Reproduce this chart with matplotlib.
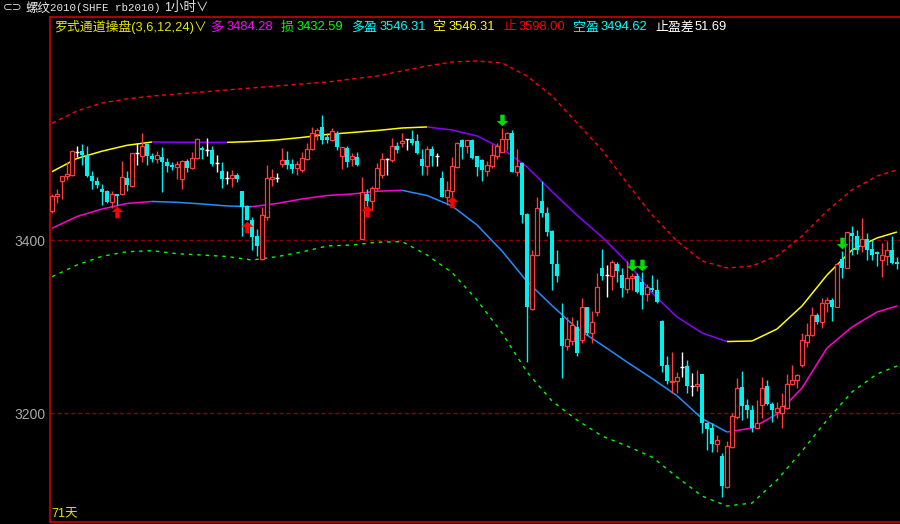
"""Rebar 2010 hourly candles with the Luo channel overlay."""

import matplotlib

matplotlib.use("Agg")
import matplotlib.pyplot as plt
import numpy as np
from matplotlib.collections import LineCollection
from matplotlib.path import Path

plt.rcParams["font.family"] = ["Noto Sans CJK SC", "DejaVu Sans"]

# one hourly bar every index step
opens = [
    3434, 3451, 3469, 3474, 3476, 3502, 3503, 3499, 3474, 3469,
    3459, 3457, 3444, 3454, 3453, 3472, 3463, 3501, 3498, 3511,
    3498, 3494, 3496, 3491, 3487, 3485, 3471, 3492, 3484, 3495,
    3507, 3504, 3504, 3489, 3480, 3472, 3472, 3476, 3457, 3440,
    3424, 3405, 3378, 3427, 3471, 3472, 3488, 3493, 3488, 3484,
    3481, 3494, 3506, 3523, 3531, 3519, 3516, 3524, 3498, 3507,
    3494, 3496, 3402, 3454, 3445, 3460, 3475, 3494, 3493, 3509,
    3513, 3517, 3517, 3515, 3494, 3486, 3506, 3498, 3472, 3450,
    3457, 3485, 3516, 3509, 3516, 3497, 3493, 3480, 3486, 3498,
    3502, 3517, 3524, 3479, 3489, 3430, 3321, 3383, 3445, 3432,
    3411, 3373, 3310, 3278, 3284, 3300, 3285, 3323, 3293, 3317,
    3368, 3360, 3359, 3373, 3360, 3344, 3356, 3359, 3352, 3338,
    3345, 3343, 3307, 3256, 3236, 3237, 3253, 3255, 3232, 3232,
    3246, 3189, 3183, 3164, 3151, 3115, 3161, 3196, 3231, 3210,
    3204, 3183, 3210, 3232, 3211, 3202, 3200, 3206, 3234, 3238,
    3256, 3283, 3290, 3314, 3306, 3328, 3331, 3323, 3378, 3368,
    3409, 3405, 3393, 3401, 3390, 3386, 3377, 3382, 3389, 3375,
]
highs = [
    3454, 3459, 3474, 3491, 3504, 3509, 3511, 3509, 3480, 3473,
    3465, 3458, 3457, 3454, 3492, 3480, 3501, 3512, 3524, 3513,
    3501, 3503, 3508, 3495, 3490, 3492, 3493, 3494, 3502, 3518,
    3509, 3518, 3509, 3499, 3491, 3480, 3481, 3478, 3457, 3441,
    3427, 3413, 3438, 3487, 3482, 3478, 3507, 3503, 3494, 3492,
    3502, 3512, 3531, 3530, 3545, 3524, 3530, 3526, 3508, 3509,
    3501, 3502, 3473, 3459, 3463, 3489, 3501, 3495, 3518, 3514,
    3524, 3517, 3528, 3523, 3505, 3509, 3509, 3501, 3480, 3469,
    3496, 3514, 3517, 3516, 3517, 3497, 3494, 3492, 3511, 3512,
    3530, 3525, 3528, 3505, 3490, 3431, 3389, 3450, 3469, 3438,
    3412, 3389, 3328, 3311, 3311, 3308, 3333, 3323, 3318, 3362,
    3390, 3372, 3377, 3375, 3368, 3376, 3362, 3362, 3363, 3350,
    3360, 3355, 3308, 3266, 3271, 3248, 3271, 3262, 3247, 3250,
    3246, 3190, 3189, 3175, 3154, 3168, 3200, 3241, 3249, 3217,
    3210, 3215, 3242, 3239, 3213, 3213, 3223, 3246, 3256, 3246,
    3293, 3304, 3323, 3316, 3333, 3334, 3333, 3374, 3388, 3410,
    3417, 3412, 3426, 3409, 3400, 3388, 3397, 3399, 3405, 3381,
]
lows = [
    3432, 3443, 3448, 3470, 3474, 3496, 3487, 3473, 3459, 3460,
    3441, 3443, 3437, 3441, 3452, 3457, 3462, 3487, 3490, 3487,
    3490, 3489, 3456, 3479, 3481, 3471, 3459, 3479, 3482, 3494,
    3494, 3498, 3486, 3479, 3461, 3465, 3462, 3467, 3405, 3423,
    3389, 3382, 3377, 3424, 3463, 3467, 3485, 3482, 3478, 3475,
    3479, 3493, 3504, 3516, 3511, 3512, 3515, 3504, 3482, 3485,
    3486, 3486, 3401, 3439, 3435, 3458, 3472, 3476, 3491, 3501,
    3508, 3504, 3510, 3500, 3475, 3476, 3486, 3486, 3450, 3441,
    3446, 3484, 3494, 3501, 3494, 3474, 3468, 3474, 3484, 3494,
    3502, 3504, 3479, 3474, 3420, 3259, 3320, 3382, 3427, 3405,
    3343, 3352, 3241, 3273, 3279, 3266, 3281, 3291, 3281, 3313,
    3354, 3335, 3343, 3352, 3334, 3339, 3342, 3339, 3321, 3330,
    3340, 3328, 3248, 3234, 3224, 3224, 3242, 3224, 3220, 3226,
    3177, 3158, 3155, 3155, 3103, 3114, 3160, 3194, 3192, 3195,
    3178, 3183, 3195, 3210, 3190, 3195, 3183, 3205, 3233, 3229,
    3254, 3277, 3289, 3303, 3299, 3317, 3307, 3323, 3356, 3368,
    3383, 3384, 3387, 3377, 3377, 3370, 3358, 3371, 3373, 3367,
]
closes = [
    3451, 3454, 3474, 3477, 3503, 3502, 3499, 3474, 3468, 3464,
    3456, 3444, 3454, 3451, 3473, 3464, 3501, 3501, 3509, 3498,
    3494, 3499, 3490, 3486, 3485, 3488, 3492, 3484, 3495, 3517,
    3504, 3504, 3488, 3489, 3471, 3472, 3476, 3471, 3438, 3424,
    3404, 3393, 3429, 3472, 3473, 3472, 3493, 3487, 3482, 3488,
    3495, 3506, 3524, 3528, 3516, 3516, 3526, 3508, 3508, 3491,
    3498, 3487, 3456, 3446, 3460, 3484, 3494, 3494, 3509, 3504,
    3515, 3517, 3513, 3501, 3486, 3505, 3497, 3498, 3450, 3458,
    3486, 3513, 3508, 3516, 3495, 3485, 3481, 3487, 3499, 3509,
    3517, 3524, 3479, 3486, 3429, 3323, 3383, 3437, 3431, 3410,
    3373, 3359, 3278, 3286, 3302, 3270, 3323, 3293, 3306, 3346,
    3359, 3360, 3375, 3365, 3345, 3356, 3359, 3340, 3337, 3346,
    3342, 3329, 3255, 3237, 3237, 3242, 3253, 3232, 3232, 3234,
    3189, 3182, 3164, 3169, 3116, 3162, 3197, 3229, 3209, 3204,
    3183, 3189, 3229, 3211, 3204, 3206, 3209, 3234, 3239, 3244,
    3285, 3291, 3314, 3306, 3328, 3331, 3323, 3373, 3368, 3410,
    3405, 3389, 3402, 3389, 3383, 3384, 3383, 3389, 3374, 3373,
]

# channel lines, sampled every fifth bar
band_idx = [
    0, 5, 10, 15, 20, 25, 30, 35, 40, 45, 50, 55, 60, 65, 70, 75, 80, 85,
    90, 95, 100, 105, 110, 115, 120, 125, 130, 135, 140, 145, 150, 155,
    160, 165, 169,
]
upper_band = [
    3479.3, 3494.6, 3503.0, 3509.8, 3513.6, 3513.4, 3513.3, 3513.2, 3514.2,
    3516.0, 3518.9, 3522.3, 3524.6, 3526.9, 3529.8, 3531.0, 3527.5, 3520.6,
    3506.4, 3484.8, 3456.3, 3429.0, 3403.8, 3374.9, 3339.1, 3311.4, 3292.9,
    3283.0, 3283.6, 3297.5, 3324.1, 3359.9, 3388.8, 3402.7, 3409.6,
]
lower_band = [
    3413.9, 3427.5, 3436.2, 3442.6, 3444.9, 3443.9, 3442.0, 3439.7, 3438.9,
    3442.6, 3447.8, 3451.8, 3453.5, 3456.7, 3457.8, 3451.8, 3439.7, 3417.7,
    3387.6, 3352.4, 3324.6, 3298.1, 3279.0, 3259.3, 3240.3, 3220.4, 3194.0,
    3178.4, 3183.0, 3199.2, 3229.3, 3275.5, 3299.8, 3317.1, 3324.1,
]
stop_band = [
    3535.3, 3549.5, 3558.7, 3563.4, 3566.8, 3569.1, 3571.4, 3573.8, 3576.1,
    3578.4, 3580.7, 3583.0, 3586.5, 3589.9, 3595.7, 3601.5, 3606.1, 3607.3,
    3605.0, 3589.9, 3566.8, 3535.6, 3504.4, 3466.3, 3429.3, 3399.2, 3376.1,
    3368.0, 3370.3, 3381.9, 3405.0, 3433.9, 3458.2, 3474.3, 3481.3,
]
loss_band = [
    3357.9, 3371.5, 3381.5, 3386.8, 3388.0, 3384.5, 3383.0, 3381.3, 3377.2,
    3381.1, 3386.5, 3393.4, 3394.6, 3397.7, 3398.6, 3383.0, 3362.8, 3331.0,
    3292.9, 3247.8, 3214.2, 3192.3, 3173.8, 3162.2, 3149.5, 3126.4, 3104.4,
    3092.9, 3096.3, 3122.9, 3156.4, 3192.3, 3224.7, 3245.5, 3254.7,
]

buy_idx = [13, 39, 63, 80]
buy_price = [3433, 3415, 3434, 3444]
sell_idx = [90, 116, 118, 158]
sell_price = [3539, 3372, 3372, 3397]

y_ticks = [3200, 3400]
y_range = (3074.4, 3658.1)

legend_labels = ["多", "损", "多盈", "空", "止", "空盈", "止盈差"]
legend_values = ["3484.28", "3432.59", "3546.31", "3546.31", "3598.00", "3494.62", "51.69"]
legend_colors = ["#ff00ff", "#00ff00", "#00ffff", "#ffff00", "#ff0000", "#00ffff", "#ffffff"]
legend_label_x = [210, 281, 351, 433, 503, 573, 655]
legend_value_x = [227, 297, 380, 449, 519, 601, 695]

W, H = 900, 524
RED_UP = "#ff3c3c"
CYAN_DN = "#00f0f0"
FRAME = "#c80000"
NUM_FONT = ["Liberation Sans", "Noto Sans CJK SC", "DejaVu Sans"]

UP_ARROW = Path(
    [(0, 1), (1, 0.1), (0.38, 0.1), (0.38, -1), (-0.38, -1), (-0.38, 0.1), (-1, 0.1), (0, 1)],
    [Path.MOVETO] + [Path.LINETO] * 6 + [Path.CLOSEPOLY],
)
DOWN_ARROW = Path(UP_ARROW.vertices * [1, -1], UP_ARROW.codes)


def fig_xy(x, y):
    return x / W, 1 - y / H


def draw_candles(ax):
    o, h, l, c = (np.array(a, dtype=float) for a in (opens, highs, lows, closes))
    x = np.arange(len(o))
    up, dn, flat = c > o, c < o, c == o
    top = np.maximum(o, c)
    bot = np.minimum(o, c)

    ax.vlines(x[up], top[up], h[up], color=RED_UP, lw=1.0)
    ax.vlines(x[up], l[up], bot[up], color=RED_UP, lw=1.0)
    ax.bar(x[up], (c - o)[up], bottom=o[up], width=0.62, facecolor="black",
           edgecolor=RED_UP, linewidth=0.9, zorder=3)

    ax.vlines(x[dn], l[dn], h[dn], color=CYAN_DN, lw=1.0)
    ax.bar(x[dn], (o - c)[dn], bottom=c[dn], width=0.72, color=CYAN_DN,
           linewidth=0, zorder=3)

    ax.vlines(x[flat], l[flat], h[flat], color="white", lw=1.0)
    ax.hlines(c[flat], x[flat] - 0.36, x[flat] + 0.36, color="white", lw=1.0)


def draw_band(ax, vals, rise_color, fall_color):
    pts = np.column_stack([band_idx, vals])
    segs = np.stack([pts[:-1], pts[1:]], axis=1)
    colors = [rise_color if b >= a else fall_color for a, b in zip(vals[:-1], vals[1:])]
    ax.add_collection(LineCollection(segs, colors=colors, linewidths=1.1, zorder=2))


def main():
    fig = plt.figure(figsize=(W / 100, H / 100), dpi=100, facecolor="black")
    left, top = fig_xy(50, 17)
    _, bottom = fig_xy(0, 522)
    ax = fig.add_axes([left, bottom, 1.02 - left, top - bottom], facecolor="black")

    ax.set_xlim(-0.4, len(opens) - 0.4 + 0.02 * W / 5)
    ax.set_ylim(*y_range)
    for side in ("left", "top", "bottom"):
        ax.spines[side].set_color(FRAME)
        ax.spines[side].set_linewidth(1.2)
    ax.spines["right"].set_visible(False)
    ax.set_xticks([])
    ax.set_yticks(y_ticks)
    ax.set_yticklabels([str(v) for v in y_ticks], family="Liberation Sans", fontsize=10)
    ax.tick_params(axis="y", length=0, pad=3, colors="#a8a8a8")
    for v in y_ticks:
        ax.axhline(v, color="#900000", lw=1.0, linestyle=(0, (3, 2)), zorder=1)

    ax.plot(band_idx, stop_band, color="#ff0000", lw=1.0, linestyle=(0, (3, 2.5)), zorder=2)
    ax.plot(band_idx, loss_band, color="#00ff00", lw=1.0, linestyle=(0, (2.5, 3.5)), zorder=2)
    draw_band(ax, upper_band, "#ffff00", "#8a00ff")
    draw_band(ax, lower_band, "#ff00d0", "#1e90ff")

    draw_candles(ax)

    ax.scatter(buy_idx, buy_price, marker=UP_ARROW, s=70, color="#ff0000", zorder=4, linewidths=0)
    ax.scatter(sell_idx, sell_price, marker=DOWN_ARROW, s=70, color="#00e000", zorder=4, linewidths=0)

    ax.text(0.002, 0.003, "71天", transform=ax.transAxes, color="#e6e600",
            fontsize=9, ha="left", va="bottom", family=NUM_FONT)

    # header rows
    fig.text(*fig_xy(3, 8), "⊂⊃", color="#d0d0d0", fontsize=8.5, va="center",
             family="DejaVu Sans")
    fig.text(*fig_xy(25, 8), "螺纹", color="#e8e8e8", fontsize=9, va="center")
    fig.text(*fig_xy(50, 8), "2010(SHFE rb2010)", color="#e8e8e8", fontsize=7.8,
             va="center", family="Liberation Mono")
    fig.text(*fig_xy(164, 8), "1小时∨", color="#e8e8e8", fontsize=9, va="center",
             family=NUM_FONT)

    fig.text(*fig_xy(54, 27), "罗式通道操盘(3,6,12,24)∨", color="#e6e600", fontsize=9.3,
             va="center", family=NUM_FONT)
    for label, value, color, lx, vx in zip(legend_labels, legend_values, legend_colors,
                                           legend_label_x, legend_value_x):
        fig.text(*fig_xy(lx, 27), label, color=color, fontsize=9.3, va="center")
        fig.text(*fig_xy(vx, 27), value, color=color, fontsize=9.3, va="center",
                 family=NUM_FONT)

    fig.savefig("out.png", dpi=100, facecolor="black")
    plt.close(fig)


if __name__ == "__main__":
    main()
